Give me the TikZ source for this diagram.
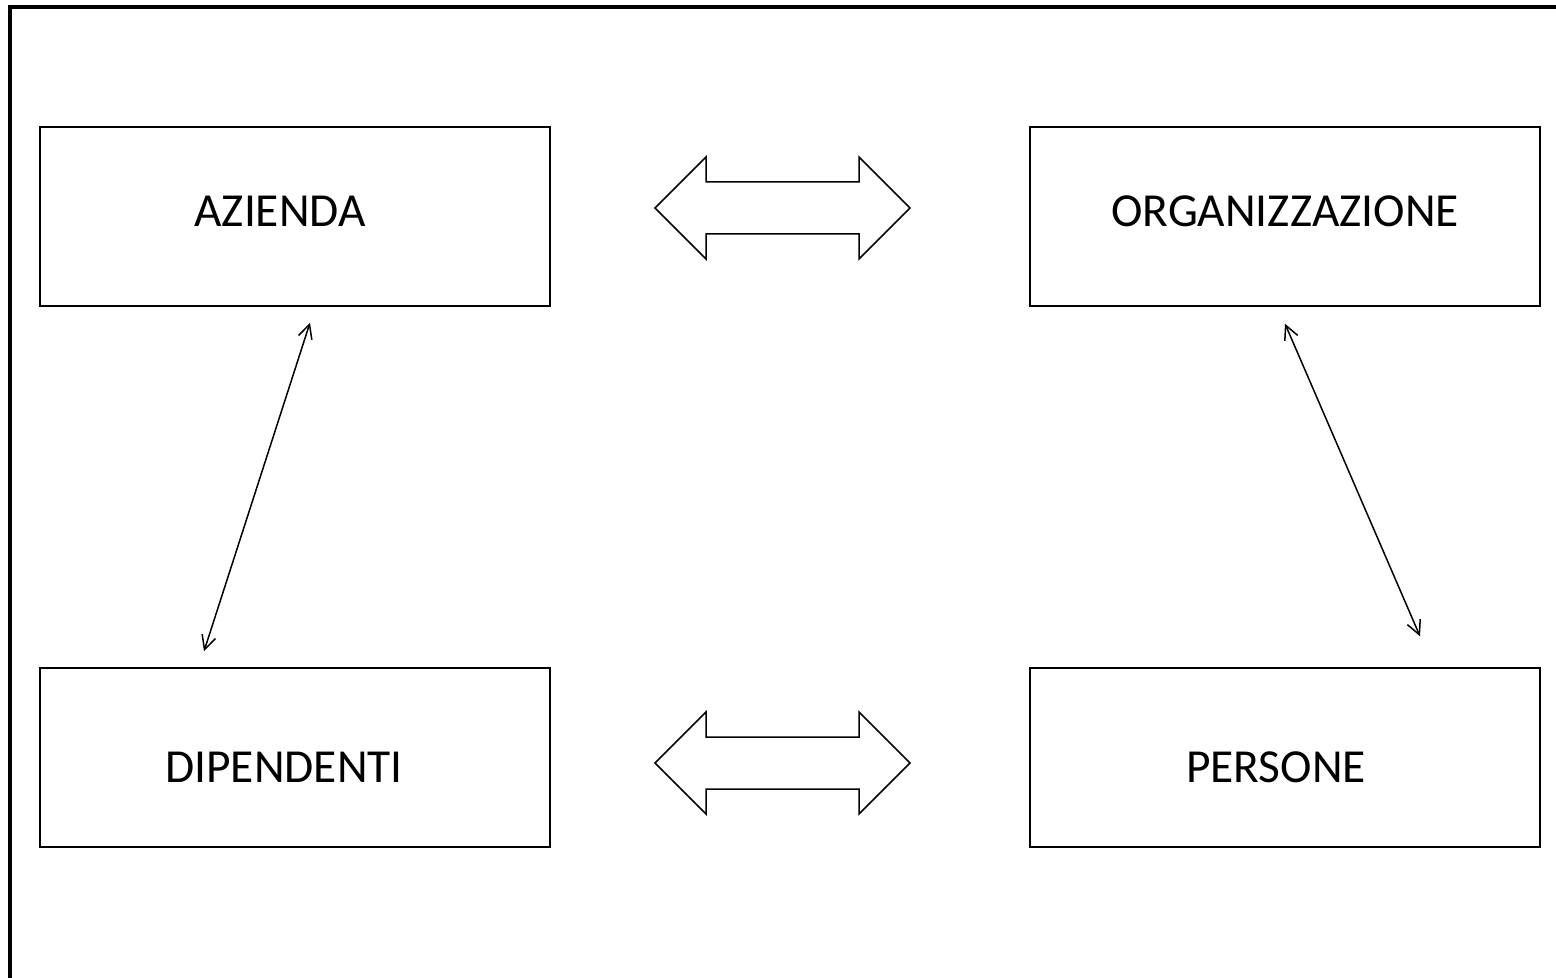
\documentclass[tikz,border=0pt]{standalone}
\usepackage{fontspec}
\setmainfont{Carlito}
\usetikzlibrary{arrows.meta,calc}

\begin{document}
\begin{tikzpicture}[x=0.5pt,y=-0.5pt,font=\fontsize{23.7}{28}\selectfont,
 box/.style={draw,line width=0.75pt,minimum width=255pt,minimum height=89.5pt,inner sep=0pt},
 link/.style={{Straight Barb[length=7pt,width=7pt]}-{Straight Barb[length=7pt,width=7pt]},line width=0.75pt},
 fat/.style={draw,line width=0.75pt,line join=miter}]
 \useasboundingbox (0,0) rectangle (1556,978);
 \clip (0,0) rectangle (1556,978);
 \draw[line width=2pt] (10,7) rectangle (1600,1020);
 \node[box,label={[xshift=-7.5pt,yshift=2.5pt]center:AZIENDA}] (az) at (295,216.5) {};
 \node[box,label={[yshift=2.5pt]center:ORGANIZZAZIONE}] (org) at (1285,216.5) {};
 \node[box,label={[xshift=-5.5pt,yshift=-5pt]center:DIPENDENTI}] (dip) at (295,757.5) {};
 \node[box,label={[xshift=-4.5pt,yshift=-5pt]center:PERSONE}] (pers) at (1285,757.5) {};
 \draw[link] ($(az.south)+(15,16)$) -- ($(dip.north)+(-91,-16)$);
 \draw[link] ($(org.south)+(0,17)$) -- ($(pers.north)+(135,-31)$);
 % block arrows between the rows
 \foreach \y in {208,763}
  \draw[fat] (655,\y) -- (706,\y-51) -- (706,\y-26) -- (859,\y-26) -- (859,\y-51) -- (910,\y)
   -- (859,\y+51) -- (859,\y+26) -- (706,\y+26) -- (706,\y+51) -- cycle;
\end{tikzpicture}
\end{document}
